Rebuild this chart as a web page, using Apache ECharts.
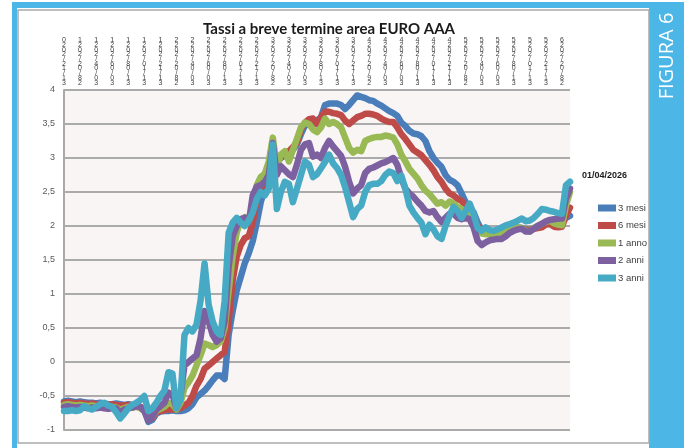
<!DOCTYPE html>
<html>
<head>
<meta charset="utf-8">
<script src="https://cdn.jsdelivr.net/npm/echarts@6/dist/echarts.min.js"></script>
<style>
html, body { margin: 0; padding: 0; background: #fff; }
#main { width: 690px; height: 448px; }
</style>
</head>
<body>
<div id="main"></div>
<script>
// etichette dell'asse (una ogni 4 punti quindicinali)
const tickLabels = [
  '31/12/2020', '28/02/2021', '30/04/2021', '30/06/2021', '31/08/2021', '31/10/2021',
  '31/12/2021', '28/02/2022', '30/04/2022', '30/06/2022', '31/08/2022', '31/10/2022',
  '31/12/2022', '28/02/2023', '30/04/2023', '30/06/2023', '31/08/2023', '31/10/2023',
  '31/12/2023', '29/02/2024', '30/04/2024', '30/06/2024', '31/08/2024', '31/10/2024',
  '31/12/2024', '28/02/2025', '30/04/2025', '30/06/2025', '31/08/2025', '31/10/2025',
  '31/12/2025', '28/02/2026'
]
const seriesNames = ['3 mesi', '6 mesi', '1 anno', '2 anni', '3 anni']
const lastDate = '01/04/2026'

const mesi3 = [
  -0.58, -0.57, -0.58, -0.59, -0.58, -0.59, -0.6, -0.6, -0.61, -0.6, -0.61, -0.62, -0.62, -0.61, -0.62, -0.63, -0.62, -0.63, -0.64, -0.66, -0.7,
  -0.88, -0.85, -0.76, -0.73, -0.72, -0.72, -0.71, -0.72, -0.72, -0.71,
  -0.68, -0.62, -0.52, -0.47, -0.42, -0.35, -0.27, -0.2, -0.2, -0.25, 0.4, 0.75, 1.05, 1.25, 1.45, 1.6,
  1.78, 2.05, 2.35, 2.55, 2.7, 2.82, 2.95, 3.0, 3.04, 3.08, 3.12, 3.2, 3.35, 3.48, 3.5, 3.5,
  3.55, 3.6, 3.78, 3.8, 3.8, 3.8, 3.78, 3.72, 3.78, 3.85, 3.92, 3.9, 3.88, 3.85, 3.84, 3.8,
  3.77, 3.73, 3.69, 3.66, 3.62, 3.52, 3.47, 3.4, 3.36, 3.35, 3.32, 3.25, 3.1, 3.0, 2.93,
  2.87, 2.75, 2.68, 2.65, 2.6, 2.48, 2.35, 2.26, 2.2, 2.05, 1.94, 1.97, 1.93, 1.9, 1.9, 1.93,
  1.96, 1.99, 2.0, 1.98, 1.97, 1.95, 1.94, 1.97, 2.0, 2.03, 2.04, 2.05, 2.03, 2.04, 2.06, 2.12, 2.15
]
const mesi6 = [
  -0.6, -0.59, -0.6, -0.61, -0.6, -0.61, -0.62, -0.61, -0.62, -0.62, -0.63, -0.63, -0.62, -0.63, -0.64, -0.64, -0.63, -0.64, -0.65, -0.66, -0.7,
  -0.84, -0.82, -0.74, -0.72, -0.71, -0.7, -0.7, -0.7, -0.68, -0.64,
  -0.6, -0.5, -0.35, -0.25, -0.1, -0.05, 0.0, 0.05, 0.1, 0.15, 0.6, 1.2, 1.55, 1.72, 1.82, 1.85,
  2.05, 2.4, 2.55, 2.65, 2.8, 2.97, 3.03, 3.01, 3.05, 3.1, 3.16, 3.22, 3.42, 3.52, 3.57, 3.58,
  3.5, 3.6, 3.68, 3.68, 3.66, 3.65, 3.63, 3.55, 3.5, 3.55, 3.6, 3.62, 3.65, 3.65, 3.64, 3.62,
  3.58, 3.55, 3.53, 3.53, 3.45, 3.35, 3.28, 3.2, 3.12, 3.08, 3.04, 2.97, 2.9, 2.82, 2.72,
  2.65, 2.55, 2.48, 2.45, 2.4, 2.37, 2.3, 2.22, 2.15, 2.0, 1.91, 1.92, 1.91, 1.88, 1.9, 1.93,
  1.95, 1.96, 1.97, 1.97, 1.96, 1.95, 1.94, 1.96, 1.97, 1.98, 2.02, 2.03, 1.99, 1.98, 1.99, 2.15, 2.27
]
const anno1 = [
  -0.63, -0.62, -0.63, -0.64, -0.63, -0.64, -0.65, -0.64, -0.65, -0.65, -0.66, -0.67, -0.66, -0.67, -0.7, -0.68, -0.66, -0.67, -0.66, -0.68, -0.72,
  -0.84, -0.8, -0.72, -0.69, -0.66, -0.6, -0.62, -0.7, -0.6, -0.38,
  -0.3, -0.2, -0.05, 0.1, 0.27, 0.25, 0.22, 0.25, 0.3, 0.5, 1.05, 1.55, 1.9, 2.08, 2.13, 2.05,
  2.3, 2.6, 2.72, 2.77, 2.95, 3.3, 2.85, 3.05, 3.1, 2.95, 3.12, 3.28, 3.45, 3.52, 3.5, 3.42,
  3.38, 3.45, 3.58, 3.5, 3.53, 3.5, 3.45, 3.3, 3.15, 3.08, 3.12, 3.1, 3.25, 3.28, 3.3, 3.31,
  3.31, 3.33, 3.32, 3.3, 3.2, 3.05, 2.95, 2.84, 2.77, 2.7, 2.6, 2.52, 2.47, 2.4, 2.33,
  2.35, 2.3, 2.36, 2.33, 2.28, 2.25, 2.2, 2.16, 2.1, 1.95, 1.89, 1.88, 1.88, 1.85, 1.87, 1.9,
  1.93, 1.94, 1.97, 1.98, 1.97, 1.93, 1.92, 1.97, 2.0, 2.03, 2.06, 2.08, 2.04, 2.02, 2.01, 2.3, 2.5
]
const anni2 = [
  -0.66, -0.65, -0.66, -0.67, -0.66, -0.67, -0.68, -0.67, -0.68, -0.67, -0.68, -0.69, -0.68, -0.68, -0.74, -0.7, -0.68, -0.67, -0.65, -0.66, -0.72,
  -0.86, -0.8, -0.7, -0.65, -0.6, -0.45, -0.48, -0.68, -0.5, -0.05,
  0.0, 0.05, 0.1, 0.35, 0.75, 0.6, 0.4, 0.3, 0.35, 0.6, 1.4, 1.85, 2.0, 2.1, 2.12, 2.05,
  2.45, 2.58, 2.6, 2.65, 2.75, 3.22, 2.75, 2.88, 2.82, 2.76, 2.72, 2.9, 3.12, 3.2, 3.22, 3.02,
  3.05, 3.0, 3.15, 3.25, 3.17, 3.1, 3.03, 2.87, 2.65, 2.48, 2.55, 2.6, 2.78, 2.84, 2.86, 2.89,
  2.92, 2.94, 2.97, 3.0, 2.9, 2.7, 2.55, 2.48, 2.43, 2.36, 2.3, 2.22, 2.2, 2.22, 2.13,
  2.06, 2.12, 2.18, 2.18, 2.12, 2.1, 2.12, 2.1, 1.98, 1.78, 1.72, 1.76, 1.79, 1.8, 1.81, 1.81,
  1.85, 1.9, 1.93, 1.95, 1.96, 1.92, 1.92, 1.96, 2.0, 2.03, 2.07, 2.09, 2.1, 2.11, 2.11, 2.4, 2.55
]
const anni3 = [
  -0.72, -0.72, -0.71, -0.72, -0.71, -0.65, -0.68, -0.7, -0.66, -0.62, -0.6, -0.64, -0.66, -0.74, -0.83, -0.76, -0.68, -0.63, -0.6, -0.56, -0.5,
  -0.72, -0.68, -0.6, -0.5, -0.42, -0.15, -0.17, -0.68, -0.55, 0.4,
  0.5, 0.45, 0.55, 0.9, 1.45, 0.85, 0.6, 0.45, 0.4, 0.9, 1.9, 2.05, 2.12, 2.05, 2.0, 2.08,
  2.2, 2.4, 2.5, 2.45, 2.55, 3.2, 2.25, 2.5, 2.65, 2.62, 2.35, 2.55, 2.75, 2.95, 2.9, 2.72,
  2.76, 2.85, 2.94, 3.05, 2.92, 2.85, 2.75, 2.57, 2.35, 2.13, 2.25, 2.3, 2.5, 2.6, 2.62, 2.62,
  2.66, 2.75, 2.8, 2.78, 2.66, 2.74, 2.55, 2.3, 2.2, 2.12, 2.05, 1.88, 2.02, 1.95, 1.85,
  1.81, 2.0, 2.15, 2.28, 2.22, 2.12, 2.22, 2.33, 2.18, 1.97, 1.93, 1.98, 1.94, 1.93, 1.95, 1.98,
  2.01, 2.03, 2.05, 2.08, 2.11, 2.07, 2.08, 2.12, 2.18, 2.25, 2.24, 2.22, 2.21, 2.19, 2.18, 2.6, 2.65
]

const colors = ['#4a7ebb', '#be4b48', '#98b954', '#7d60a0', '#46aac5']
const frameBlue = '#4cb6e7'

// categorie: una ogni mezzo mese, etichetta solo ogni 4
const categories = mesi3.map((v, i) => (i % 4 === 0 ? tickLabels[i / 4] : ''))

const allData = [mesi3, mesi6, anno1, anni2, anni3]

let myChart = echarts.init(document.getElementById('main'))

myChart.setOption({
  animation: false,
  backgroundColor: '#fff',
  title: {
    text: 'Tassi a breve termine area EURO AAA',
    left: 198,
    top: 17,
    textStyle: {
      fontFamily: 'Lato',
      fontSize: 15,
      fontWeight: 'bold',
      color: '#1a1a1a'
    }
  },
  grid: {
    left: 64,
    right: 120,
    top: 90,
    bottom: 18,
    show: true,
    backgroundColor: '#f9f5f4',
    borderWidth: 0
  },
  legend: {
    orient: 'vertical',
    left: 593,
    top: 198,
    itemWidth: 18,
    itemHeight: 7,
    itemGap: 7.5,
    icon: 'rect',
    data: seriesNames,
    textStyle: {
      fontFamily: 'Liberation Sans',
      fontSize: 9.5,
      color: '#404040',
      padding: [0, 0, 0, -3]
    }
  },
  xAxis: {
    type: 'category',
    position: 'top',
    boundaryGap: false,
    data: categories,
    axisLine: { show: false },
    axisTick: { show: false },
    axisLabel: {
      interval: 3,
      margin: 5,
      fontFamily: 'Liberation Sans',
      fontSize: 7,
      lineHeight: 4.7,
      color: '#404040',
      formatter: (v) => v.split('').reverse().join('\n')
    }
  },
  yAxis: {
    type: 'value',
    min: -1,
    max: 4,
    interval: 0.5,
    axisLine: {
      show: true,
      lineStyle: { color: '#a9a9a9', width: 2 }
    },
    axisTick: { show: false },
    axisLabel: {
      margin: 9,
      fontFamily: 'Liberation Sans',
      fontSize: 9,
      color: '#595959',
      formatter: (v) => String(v).replace('.', ',')
    },
    splitLine: {
      lineStyle: { color: '#ababab', width: 2 }
    }
  },
  series: seriesNames.map((name, k) => ({
    type: 'line',
    name: name,
    data: allData[k],
    showSymbol: false,
    symbol: 'none',
    color: colors[k],
    lineStyle: {
      width: 6.5,
      color: colors[k],
      cap: 'round',
      join: 'round'
    }
  })),
  graphic: [
    { type: 'rect', shape: { x: 12, y: 2, width: 672, height: 6 }, style: { fill: frameBlue } },
    { type: 'rect', shape: { x: 12, y: 2, width: 5, height: 446 }, style: { fill: frameBlue } },
    { type: 'rect', shape: { x: 649, y: 2, width: 35, height: 446 }, style: { fill: frameBlue } },
    {
      type: 'rect',
      shape: { x: 18, y: 10, width: 631, height: 433 },
      style: { fill: 'none', stroke: '#a9a9a9', lineWidth: 1.5 }
    },
    {
      type: 'text',
      x: 667,
      y: 56,
      rotation: Math.PI / 2,
      style: {
        text: 'FIGURA 6',
        fill: '#fff',
        font: '20px "Open Sans"',
        align: 'center',
        verticalAlign: 'middle'
      }
    },
    {
      type: 'text',
      x: 582,
      y: 171,
      style: {
        text: lastDate,
        fill: '#1a1a1a',
        font: 'bold 9px "Liberation Sans"'
      }
    }
  ]
})

window.addEventListener('resize', () => {
  myChart.resize()
})
</script>
</body>
</html>
